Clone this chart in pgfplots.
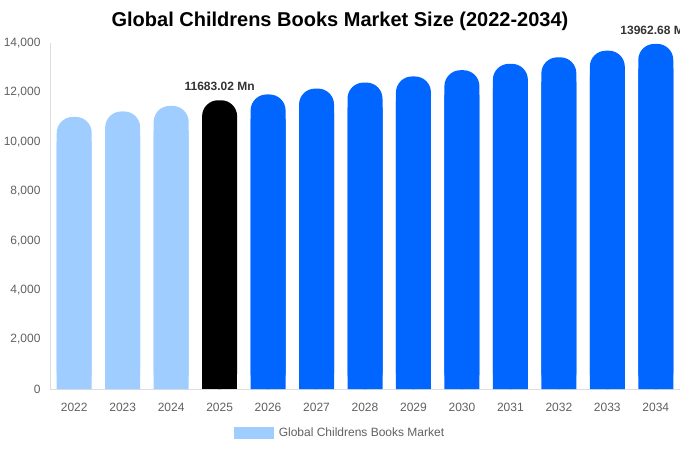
\documentclass[border=0pt]{standalone}
\usepackage{fontspec}
\setmainfont{Liberation Sans}
\usepackage{pgfplots}
\usepackage{pgfplotstable}
\pgfplotsset{compat=1.18}
\definecolor{lightbar}{HTML}{A0CDFF}
\definecolor{mainbar}{HTML}{0066FF}
\definecolor{ticktext}{HTML}{606060}
\definecolor{labeltext}{HTML}{333333}
\definecolor{axisgray}{HTML}{DDDDDD}

\pgfplotstableread{
x v
0 11009.2
1 11229.4
2 11454.0
}\pastdata
\pgfplotstableread{
x v
3 11683.02
}\basedata
\pgfplotstableread{
x v
4 11916.7
5 12155.0
6 12398.1
7 12646.1
8 12899.0
9 13157.0
10 13420.2
11 13688.6
12 13962.68
}\futuredata

\begin{document}
\begin{tikzpicture}
\begin{axis}[
  scale only axis, width=630pt, height=346pt,
  xmin=-0.5, xmax=12.5, ymin=0, ymax=14000,
  axis x line*=bottom, axis y line*=left,
  axis line style={axisgray},
  xtick={0,1,2,3,4,5,6,7,8,9,10,11,12},
  xticklabels={2022,2023,2024,2025,2026,2027,2028,2029,2030,2031,2032,2033,2034},
  ytick={0,2000,4000,6000,8000,10000,12000,14000},
  scaled y ticks=false,
  major tick length=0pt,
  tick label style={font=\fontsize{12}{14}\selectfont, text=ticktext},
  /pgf/number format/assume math mode=true,
  /pgf/number format/1000 sep={,},
  yticklabel style={xshift=-6pt},
  xticklabel style={yshift=-11pt},
  ybar, bar width=35pt, bar shift=0pt,
  clip=false,
  legend style={at={(axis description cs:0.5,0)}, anchor=center,
    xshift=-25pt, yshift=-44pt, draw=none, fill=none,
    font=\fontsize{12}{14}\selectfont, text=ticktext},
  legend image code/.code={\fill[#1, draw=none, sharp corners] (-3pt,-6pt) rectangle (37pt,6pt);\path (40pt,0pt);},
]
\addplot[fill=lightbar, draw=none, rounded corners=16pt] table[x=x,y=v] {\pastdata};
\addlegendentry{Global Childrens Books Market}
\addplot[fill=lightbar, draw=none, forget plot] table[x=x,y expr=\thisrow{v}-1000] {\pastdata};
\addplot[fill=black, draw=none, rounded corners=16pt, forget plot] table[x=x,y=v] {\basedata};
\addplot[fill=black, draw=none, forget plot] table[x=x,y expr=\thisrow{v}-1000] {\basedata};
\addplot[fill=mainbar, draw=none, rounded corners=16pt, forget plot] table[x=x,y=v] {\futuredata};
\addplot[fill=mainbar, draw=none, forget plot] table[x=x,y expr=\thisrow{v}-1000] {\futuredata};
\addplot[draw=none, fill=none, forget plot, nodes near coords, point meta=explicit symbolic,
  nodes near coords style={font=\bfseries\fontsize{12}{14}\selectfont, text=labeltext, yshift=6pt}]
  coordinates {(3,11683.02) [11683.02 Mn] (12,13962.68) [13962.68 Mn]};
\end{axis}
\node[font=\bfseries\fontsize{20}{24}\selectfont] at ([xshift=-25pt,yshift=22pt]current axis.north) {Global Childrens Books Market Size (2022-2034)};
\pgfresetboundingbox
\path[use as bounding box] ([xshift=-50pt,yshift=-61pt]current axis.south west) rectangle ([yshift=43pt]current axis.north east);
\end{tikzpicture}
\end{document}
